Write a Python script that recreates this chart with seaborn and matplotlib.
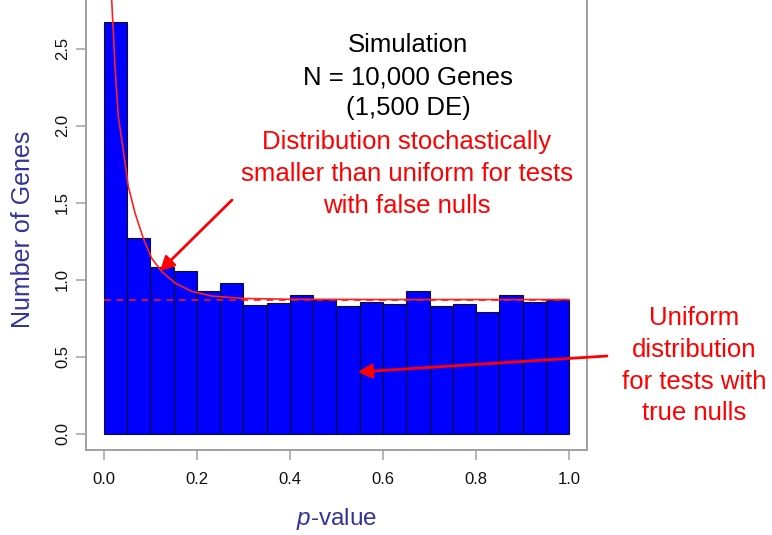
import numpy as np
import pandas as pd
import matplotlib
matplotlib.use("Agg")
import matplotlib.pyplot as plt
import seaborn as sns

# Histogram of simulated p-values (density scale), 20 bins on [0, 1]
bin_width = 0.05
bin_heights = [2.675, 1.268, 1.082, 1.058, 0.924, 0.976, 0.836, 0.846, 0.898, 0.870,
               0.827, 0.857, 0.842, 0.924, 0.827, 0.844, 0.792, 0.900, 0.851, 0.864]

# Fitted density curve (solid) and the null level pi0 (dashed)
curve_x = [0.0166, 0.0237, 0.0308, 0.0415, 0.0523, 0.0667, 0.0845, 0.1026, 0.124,
           0.1527, 0.1886, 0.2316, 0.30, 0.40, 0.60, 0.80, 1.00]
curve_y = [2.815, 2.382, 2.057, 1.841, 1.604, 1.432, 1.268, 1.138, 1.052,
           0.977, 0.923, 0.893, 0.877, 0.872, 0.870, 0.870, 0.870]
null_level = 0.87

x_ticks = [0.0, 0.2, 0.4, 0.6, 0.8, 1.0]
y_ticks = [0.0, 0.5, 1.0, 1.5, 2.0, 2.5]

sns.set_theme(style="white")
plt.rcParams["font.family"] = ["Liberation Sans", "DejaVu Sans"]
plt.rcParams["mathtext.fontset"] = "custom"
plt.rcParams["mathtext.rm"] = "Liberation Sans"
plt.rcParams["mathtext.it"] = "Liberation Sans:italic"

W, H = 772, 535
fig = plt.figure(figsize=(W / 100, H / 100), dpi=100)
ax = fig.add_axes([86 / W, 85 / H, 501 / W, 450 / H])

centers = bin_width * (np.arange(len(bin_heights)) + 0.5)
hist_df = pd.DataFrame({"p": centers, "density": bin_heights})
sns.histplot(data=hist_df, x="p", weights="density", binwidth=bin_width, binrange=(0, 1),
             color="#0000FF", edgecolor="#111122", linewidth=0.8, alpha=1.0, ax=ax)

line_df = pd.DataFrame({"x": [0.0, 1.0], "y": [null_level, null_level]})
sns.lineplot(data=line_df, x="x", y="y", color="#FF1010", linewidth=1.2,
             linestyle=(0, (4, 3.5)), ax=ax)
curve_df = pd.DataFrame({"x": curve_x, "y": curve_y})
sns.lineplot(data=curve_df, x="x", y="y", color="#FF2020", linewidth=1.2, ax=ax)

ax.set_xlim(-0.0387, 1.0387)
ax.set_ylim(-0.107, 2.815)
ax.set_xticks(x_ticks)
ax.set_xticklabels([f"{v:.1f}" for v in x_ticks])
ax.set_yticks(y_ticks)
ax.set_yticklabels([f"{v:.1f}" for v in y_ticks])

for side in ["left", "bottom", "right"]:
    ax.spines[side].set_visible(True)
    ax.spines[side].set_color("#A0A0A0")
    ax.spines[side].set_linewidth(1.4)
ax.spines["top"].set_visible(False)

ax.tick_params(axis="both", which="major", length=7.5, width=1.1, color="#A0A0A0",
               labelsize=12, labelcolor="#111111", direction="out",
               bottom=True, left=True)
ax.tick_params(axis="x", pad=8)
ax.tick_params(axis="y", pad=4)
for lab in ax.get_yticklabels():
    lab.set_rotation(90)
    lab.set_va("center")

label_color = "#333399"
ax.set_xlabel(r"$\it{p}$-value", fontsize=17.5, color=label_color)
ax.xaxis.set_label_coords(0.5, -0.124)
ax.set_ylabel("Number of Genes", fontsize=18, color=label_color)
ax.yaxis.set_label_coords(-0.102, 0.491)


def px(x, y):
    return x / W, 1 - y / H


# Simulation summary
for text, y in [("Simulation", 52), ("N = 10,000 Genes", 84), ("(1,500 DE)", 115)]:
    fig.text(*px(408, y), text, ha="center", va="baseline", fontsize=18.5, color="black")

# Annotation for the non-null component
for text, y in [("Distribution stochastically", 149),
                ("smaller than uniform for tests", 181),
                ("with false nulls", 213)]:
    fig.text(*px(407, y), text, ha="center", va="baseline", fontsize=18.5, color="#FF0000")

# Annotation for the null component
for text, y in [("Uniform", 325), ("distribution", 357),
                ("for tests with", 389), ("true nulls", 420)]:
    fig.text(*px(694, y), text, ha="center", va="baseline", fontsize=18.5, color="#FF0000")

arrow_style = dict(arrowstyle="-|>,head_length=0.42,head_width=0.22", color="#FF0000",
                   lw=2.0, shrinkA=0, shrinkB=0, mutation_scale=20)
fig.add_artist(matplotlib.patches.FancyArrowPatch(px(232, 200), px(160, 271),
                                                  transform=fig.transFigure, **arrow_style))
fig.add_artist(matplotlib.patches.FancyArrowPatch(px(607, 356), px(358, 372),
                                                  transform=fig.transFigure, **arrow_style))

fig.savefig("out.png", dpi=100, facecolor="white")
